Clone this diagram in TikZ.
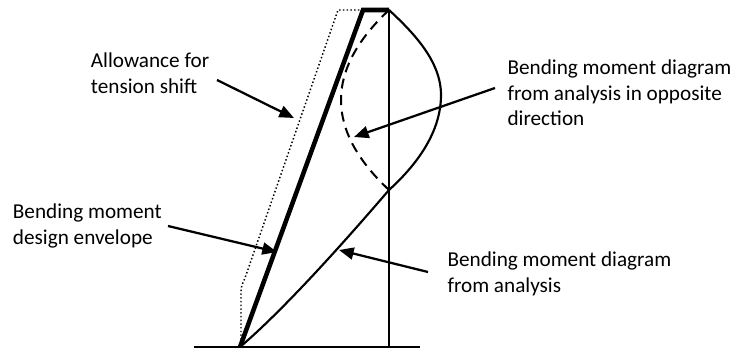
\documentclass[tikz,border=0pt]{standalone}
\usepackage{fontspec}
\setmainfont{Carlito}
\usetikzlibrary{arrows.meta,positioning}

\begin{document}
\begin{tikzpicture}[
  x=0.75pt, y=-0.75pt,
  >={Triangle[length=11pt,width=9pt]},
  lbl/.style={anchor=north west, align=left, inner sep=0pt, font=\fontsize{15.9}{19.1}\selectfont},
  baseln/.style={line width=2.2pt},
  axisln/.style={line width=1.9pt},
  analn/.style={line width=1.6pt},
  envln/.style={line width=3.4pt, line join=miter},
  shiftln/.style={line width=1.1pt, dash pattern=on 1.1pt off 1.7pt},
  oppln/.style={line width=1.5pt, dash pattern=on 7.5pt off 5pt},
  ptr/.style={->, line width=1.7pt}
]
  \useasboundingbox (0,0) rectangle (733,353);

  % key points of the member
  \coordinate (foot) at (240,347);
  \coordinate (top) at (389,10);
  \coordinate (bot) at (389,347);
  \coordinate (envtop) at (363,10);
  \coordinate (cross) at (389,190);
  \coordinate (bulge) at (441,95);

  % base and member axis
  \draw[baseln] (194,347) -- (420,347);
  \draw[axisln] (top) -- (bot);

  % bending moment from analysis
  \draw[analn] (top) .. controls (415,34) and (441,62) .. (bulge)
    .. controls (441,128) and (422,160) .. (cross)
    .. controls (370,212) and (293,302) .. (foot);

  % opposite direction
  \draw[oppln] (top) .. controls (325,70) and (325,130) .. (cross);

  % allowance for tension shift
  \draw[shiftln] (envtop) -- (338,10) -- (245,278) .. controls (241,287) .. (241,296) -- (241,347);

  % design envelope
  \draw[envln] (foot) -- (envtop) -- (top);

  % labels
  \node[lbl] (shift) at (90.7,53) {Allowance for\\tension shift};
  \node[lbl] (env) at (12.7,204) {Bending moment\\design envelope};
  \node[lbl] (opp) at (507.3,60) {Bending moment diagram\\from analysis in opposite\\direction};
  \node[lbl] (ana) at (447.3,251.7) {Bending moment diagram\\from analysis};

  % pointers
  \coordinate (shiftA) at (217,80);
  \coordinate (shiftB) at (294,118);
  \coordinate (envA) at (168,226);
  \coordinate (envB) at (277,252);
  \coordinate (oppA) at (495,88);
  \coordinate (oppB) at (354,137);
  \coordinate (anaA) at (428,272);
  \coordinate (anaB) at (339,250);
  \draw[ptr] (shiftA) -- (shiftB);
  \draw[ptr] (envA) -- (envB);
  \draw[ptr] (oppA) -- (oppB);
  \draw[ptr] (anaA) -- (anaB);
\end{tikzpicture}
\end{document}
